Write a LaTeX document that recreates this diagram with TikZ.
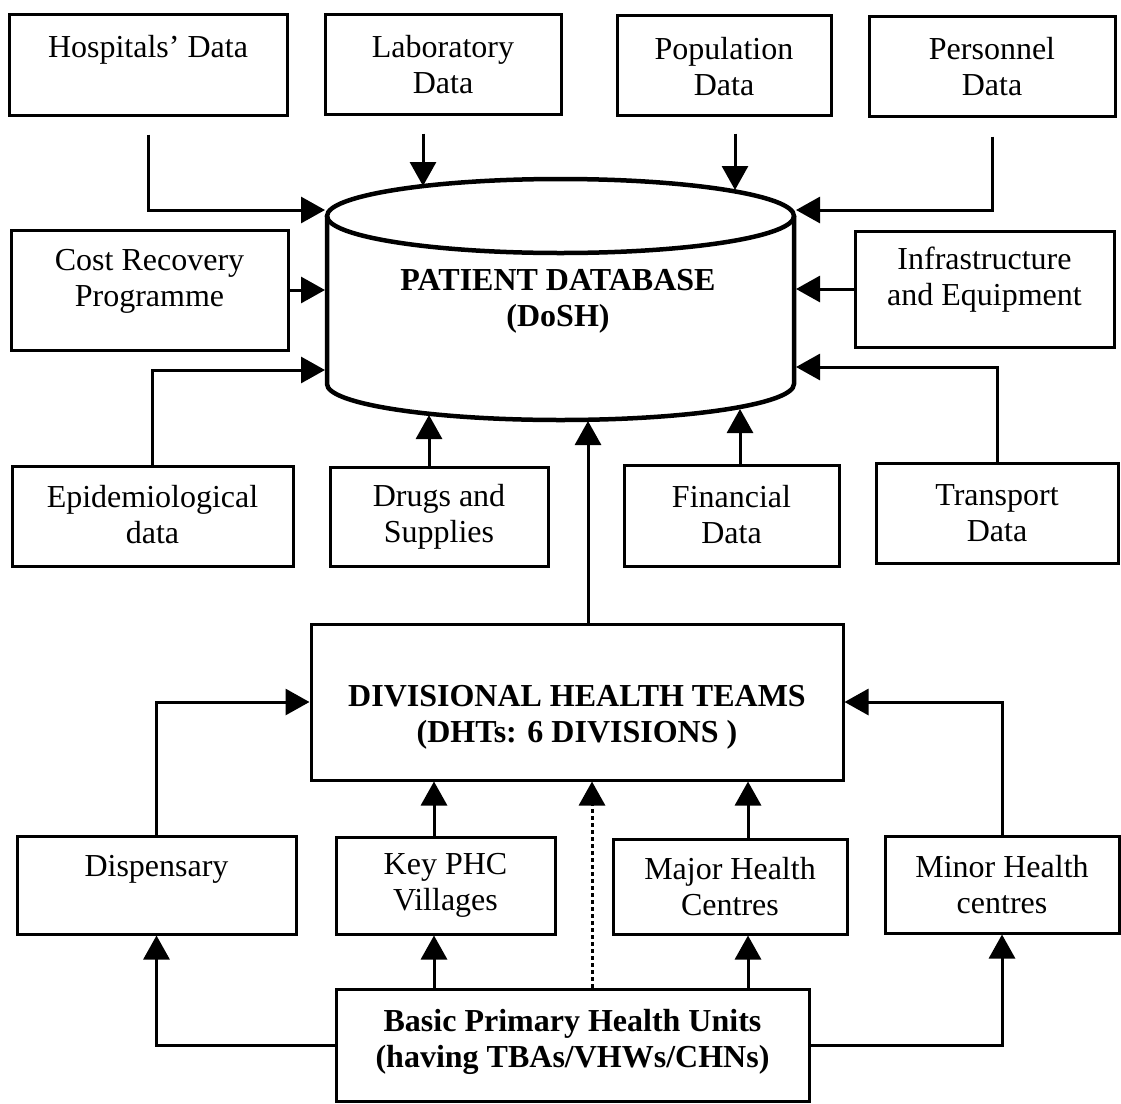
\documentclass[tikz,border=0pt]{standalone}
\usepackage{fontspec}
\setmainfont{Liberation Serif}
\usetikzlibrary{arrows.meta}
\begin{document}
\begin{tikzpicture}[x=1pt,y=-1pt,
  box/.style={draw, line width=3pt, inner sep=0pt},
  lbl/.style={align=center, inner sep=0pt, font=\fontsize{32}{36}\selectfont},
  blbl/.style={align=center, inner sep=0pt, font=\fontsize{32}{36}\selectfont\bfseries},
  arr/.style={line width=3pt, -{Triangle[length=24pt,width=26pt]}},
  dotline/.style={dash pattern=on 4pt off 3pt},
  dbline/.style={line width=4.5pt}]

\fill[white] (0,0) rectangle (1121,1103);
\useasboundingbox (0,0) rectangle (1121,1103);

% ---- data sources around the database
\node[box, minimum width=278pt, minimum height=101pt] (hosp)  at (148,64.5) {};
\node[box, minimum width=236pt, minimum height=100pt] (lab)   at (443,64) {};
\node[box, minimum width=214pt, minimum height=100pt] (pop)   at (724,65) {};
\node[box, minimum width=246pt, minimum height=100pt] (pers)  at (992,66) {};
\node[box, minimum width=277pt, minimum height=120pt] (cost)  at (149.5,290) {};
\node[box, minimum width=259pt, minimum height=116pt] (infra) at (984.5,289) {};
\node[box, minimum width=281pt, minimum height=100pt] (epid)  at (152.5,516) {};
\node[box, minimum width=218pt, minimum height=99pt]  (drugs) at (439,516.5) {};
\node[box, minimum width=215pt, minimum height=101pt] (fin)   at (731.5,515.5) {};
\node[box, minimum width=242pt, minimum height=100pt] (trans) at (997,513) {};

\node[lbl] (hospT)  at (148,49.5)   {Hospitals' Data};
\node[lbl] (labT)   at (443,65)     {Laboratory\\Data};
\node[lbl] (popT)   at (724,67)     {Population\\Data};
\node[lbl] (persT)  at (992,67)     {Personnel\\Data};
\node[lbl] (costT)  at (149.5,281.5){Cost Recovery\\Programme};
\node[lbl] (infraT) at (984.5,280)  {Infrastructure\\and Equipment};
\node[lbl] (epidT)  at (152.5,515)  {Epidemiological\\data};
\node[lbl] (drugsT) at (439,516.5)  {Drugs and\\Supplies};
\node[lbl] (finT)   at (731.5,514.5){Financial\\Data};
\node[lbl] (transT) at (997,513.5)  {Transport\\Data};

% ---- the database cylinder
\draw[dbline] (560.5,216) ellipse [x radius=233.5, y radius=37];
\draw[dbline] (327,216) -- (327,384)
  arc [start angle=180, end angle=0, x radius=233.5, y radius=36] -- (794,216);
\node[blbl] (dbT) at (558,301.5) {PATIENT DATABASE\\(DoSH)};

\coordinate (dbL) at (325,0);
\coordinate (dbR) at (796,0);
\coordinate (dbHosp)  at (325,210);
\coordinate (dbPers)  at (796,210);
\coordinate (dbEpid)  at (325,370);
\coordinate (dbTrans) at (796,367);
\coordinate (dbLab)   at (423,186);
\coordinate (dbPop)   at (735,190);
\coordinate (dbDrugs) at (429,415);
\coordinate (dbFin)   at (740,409);
\coordinate (dbDht)   at (588,421);

% ---- inputs to the database
\draw[arr, shorten <=18pt] (hosp.south) |- (dbHosp);
\draw[arr, shorten <=18pt] (lab.south -| dbLab) -- (dbLab);
\draw[arr, shorten <=17pt] (pop.south -| dbPop) -- (dbPop);
\draw[arr, shorten <=19pt] (pers.south) |- (dbPers);
\draw[arr] (cost.east) -- (cost.east -| dbL);
\draw[arr] (infra.west) -- (infra.west -| dbR);
\draw[arr] (epid.north) |- (dbEpid);
\draw[arr] (drugs.north -| dbDrugs) -- (dbDrugs);
\draw[arr] (fin.north -| dbFin) -- (dbFin);
\draw[arr] (trans.north) |- (dbTrans);

% ---- divisional level
\node[box, minimum width=532pt, minimum height=156pt] (dht) at (577,702) {};
\node[blbl] (dhtT) at (577,717) {DIVISIONAL HEALTH TEAMS\\(DHTs: 6 DIVISIONS )};
\draw[arr] (dht.north -| dbDht) -- (dbDht);

\node[box, minimum width=279pt, minimum height=98pt] (disp)  at (156.5,885) {};
\node[box, minimum width=219pt, minimum height=97pt] (key)   at (445.5,885.5) {};
\node[box, minimum width=234pt, minimum height=95pt] (major) at (730,886.5) {};
\node[box, minimum width=234pt, minimum height=97pt] (minor) at (1002,884.5) {};
\node[box, minimum width=473pt, minimum height=112pt] (basic) at (572.5,1045) {};

\node[lbl] (dispT)  at (156.5,869.5) {Dispensary};
\node[lbl] (keyT)   at (445.5,885.5) {Key PHC\\Villages};
\node[lbl] (majorT) at (730,886.5)   {Major Health\\Centres};
\node[lbl] (minorT) at (1002,884.5)  {Minor Health\\centres};
\node[blbl] (basicT) at (572.5,1041.5) {Basic Primary Health Units\\(having TBAs/VHWs/CHNs)};

\coordinate (kx) at (434,0);
\coordinate (mx) at (748,0);
\coordinate (dx) at (592,0);

% ---- reporting lines to the divisional teams
\draw[arr] (disp.north) |- (dht.west);
\draw[arr] (minor.north) |- (dht.east);
\draw[arr] (key.north -| kx) -- (dht.south -| kx);
\draw[arr] (major.north -| mx) -- (dht.south -| mx);
\draw[arr, dotline] (basic.north -| dx) -- (dht.south -| dx);

% ---- basic units feeding the facilities
\draw[arr] (basic.north -| kx) -- (key.south -| kx);
\draw[arr] (basic.north -| mx) -- (major.south -| mx);
\draw[arr] (basic.west) -| (disp.south);
\draw[arr] (basic.east) -| (minor.south);

\end{tikzpicture}
\end{document}
